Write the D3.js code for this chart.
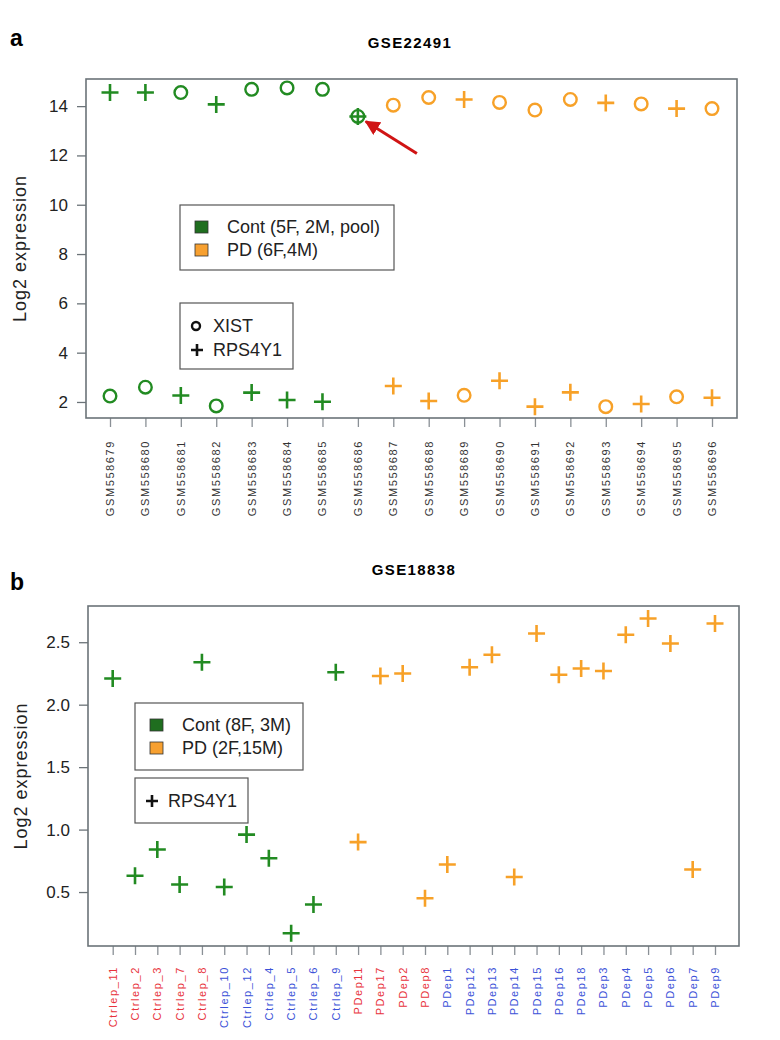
<!DOCTYPE html>
<html>
<head>
<meta charset="utf-8">
<script src="https://cdn.jsdelivr.net/npm/d3@7"></script>
<style>
  body { margin: 0; background: #fff; }
  svg { display: block; font-family: "Liberation Sans", Arial, sans-serif; }
</style>
</head>
<body>
<svg id="chart" width="780" height="1040"></svg>
<script>
/* ------------ DATA ---------------------------------------------------- */
// panel a : GSE22491
const samplesA = ['GSM558679', 'GSM558680', 'GSM558681', 'GSM558682', 'GSM558683', 'GSM558684',
  'GSM558685', 'GSM558686', 'GSM558687', 'GSM558688', 'GSM558689', 'GSM558690', 'GSM558691',
  'GSM558692', 'GSM558693', 'GSM558694', 'GSM558695', 'GSM558696'];
const groupA = ['Cont', 'Cont', 'Cont', 'Cont', 'Cont', 'Cont', 'Cont', 'Cont',
  'PD', 'PD', 'PD', 'PD', 'PD', 'PD', 'PD', 'PD', 'PD', 'PD'];
const xistA = [2.24, 2.60, 14.55, 1.84, 14.68, 14.74, 14.68, 13.58, 14.04, 14.35, 2.27, 14.15,
  13.84, 14.27, 1.81, 14.09, 2.21, 13.90];
const rpsA = [14.55, 14.55, 2.26, 14.07, 2.38, 2.08, 2.01, 13.58, 2.65, 2.04, 14.27, 2.86,
  1.81, 2.39, 14.13, 1.92, 13.90, 2.17];
const yTicksA = [2, 4, 6, 8, 10, 12, 14];
const legendGroupA = ['Cont (5F, 2M, pool)', 'PD (6F,4M)'];
const arrowSampleA = 'GSM558686';

// panel b : GSE18838
const samplesB = ['Ctrlep_11', 'Ctrlep_2', 'Ctrlep_3', 'Ctrlep_7', 'Ctrlep_8', 'Ctrlep_10',
  'Ctrlep_12', 'Ctrlep_4', 'Ctrlep_5', 'Ctrlep_6', 'Ctrlep_9', 'PDep11', 'PDep17', 'PDep2',
  'PDep8', 'PDep1', 'PDep12', 'PDep13', 'PDep14', 'PDep15', 'PDep16', 'PDep18', 'PDep3',
  'PDep4', 'PDep5', 'PDep6', 'PDep7', 'PDep9'];
const groupB = ['Cont', 'Cont', 'Cont', 'Cont', 'Cont', 'Cont', 'Cont', 'Cont', 'Cont', 'Cont',
  'Cont', 'PD', 'PD', 'PD', 'PD', 'PD', 'PD', 'PD', 'PD', 'PD', 'PD', 'PD', 'PD', 'PD', 'PD',
  'PD', 'PD', 'PD'];
const labelSetB = [1, 1, 1, 1, 1, 2, 2, 2, 2, 2, 2, 1, 1, 1, 1, 2, 2, 2, 2, 2, 2, 2, 2, 2, 2,
  2, 2, 2];
const rpsB = [2.21, 0.63, 0.84, 0.56, 2.34, 0.54, 0.96, 0.77, 0.17, 0.40, 2.26, 0.90, 2.23,
  2.25, 0.45, 0.72, 2.30, 2.40, 0.62, 2.57, 2.24, 2.29, 2.27, 2.56, 2.69, 2.49, 0.68, 2.65];
const yTicksB = [0.5, 1.0, 1.5, 2.0, 2.5];
const legendGroupB = ['Cont (8F, 3M)', 'PD (2F,15M)'];

/* ------------ STYLE --------------------------------------------------- */
const groupColor = d3.scaleOrdinal().domain(['Cont', 'PD']).range(['#228b22', '#f7a128']);
const legendFill = d3.scaleOrdinal().domain(['Cont', 'PD']).range(['#1f6e1f', '#f7a030']);
const labelColor = d3.scaleOrdinal().domain([1, 2]).range(['#e8333c', '#3b52d8']);
const boxColor = '#6b7378';

const svg = d3.select('#chart');

// arrowhead
svg.append('defs').append('marker')
  .attr('id', 'arrowHead')
  .attr('viewBox', '0 0 10 10')
  .attr('refX', 9).attr('refY', 5)
  .attr('markerWidth', 5).attr('markerHeight', 5)
  .attr('orient', 'auto')
  .append('path').attr('d', 'M0,0 L10,5 L0,10 z').attr('fill', '#d01414');

/* ------------ MARKERS ------------------------------------------------- */
function plus(g, x, y, color, r = 8.5, w = 2.6) {
  g.append('path')
    .attr('d', `M${x - r},${y}H${x + r}M${x},${y - r}V${y + r}`)
    .attr('stroke', color).attr('stroke-width', w).attr('fill', 'none');
}

function ring(g, x, y, color, r = 6.3, w = 2.4) {
  g.append('circle')
    .attr('cx', x).attr('cy', y).attr('r', r)
    .attr('stroke', color).attr('stroke-width', w).attr('fill', 'none');
}

/* ------------ PANEL --------------------------------------------------- */
function drawPanel(cfg) {
  const g = svg.append('g');
  const { left, right, top, bottom } = cfg.box;

  const x = d3.scalePoint().domain(cfg.samples).range(cfg.xRange);
  const y = d3.scaleLinear().domain(cfg.yDomain).range([bottom, top]);

  // panel letter + title
  g.append('text').attr('x', 10).attr('y', cfg.letterY)
    .attr('font-size', 23).attr('font-weight', 'bold').text(cfg.letter);
  g.append('text').attr('x', cfg.titleX).attr('y', cfg.titleY)
    .attr('text-anchor', 'middle').attr('font-size', 15).attr('font-weight', 'bold')
    .attr('letter-spacing', 1.4).text(cfg.title);

  // y axis
  const ya = g.append('g').attr('transform', `translate(${left},0)`)
    .call(d3.axisLeft(y).tickValues(cfg.yTicks).tickFormat(cfg.yFormat).tickSize(9).tickPadding(9));
  ya.select('.domain').remove();
  ya.selectAll('line').attr('stroke', boxColor).attr('stroke-width', 1.3);
  ya.selectAll('text').attr('font-size', 17).attr('fill', '#222')
    .attr('font-family', '"Liberation Sans", Arial, sans-serif');

  // x axis
  const xa = g.append('g').attr('transform', `translate(0,${bottom})`)
    .call(d3.axisBottom(x).tickSize(9).tickFormat(''));
  xa.select('.domain').remove();
  xa.selectAll('line').attr('stroke', '#8a9096').attr('stroke-width', 1.3);

  g.append('g').selectAll('text')
    .data(cfg.samples)
    .join('text')
    .attr('transform', d => `translate(${x(d) + 4},${cfg.labelTop}) rotate(-90)`)
    .attr('text-anchor', 'end')
    .attr('font-size', 11)
    .attr('letter-spacing', 1.6)
    .attr('fill', (d, i) => cfg.labelSet ? labelColor(cfg.labelSet[i]) : '#333')
    .text(d => d);

  // y label
  g.append('text')
    .attr('transform', `translate(${cfg.ylabX},${(top + bottom) / 2}) rotate(-90)`)
    .attr('text-anchor', 'middle').attr('font-size', 18).attr('fill', '#222')
    .attr('letter-spacing', 1)
    .text('Log2 expression');

  // box
  g.append('rect')
    .attr('x', left).attr('y', top)
    .attr('width', right - left).attr('height', bottom - top)
    .attr('fill', 'none').attr('stroke', boxColor).attr('stroke-width', 1.6);

  // points
  const pts = g.append('g');
  cfg.samples.forEach((s, i) => {
    const c = groupColor(cfg.groups[i]);
    if (cfg.xist) ring(pts, x(s), y(cfg.xist[i]), c);
    plus(pts, x(s), y(cfg.rps[i]), c);
  });

  // group legend
  const lg = cfg.legend1;
  const l1 = g.append('g');
  l1.append('rect').attr('x', lg.x).attr('y', lg.y).attr('width', lg.w).attr('height', lg.h)
    .attr('fill', '#fff').attr('stroke', '#555').attr('stroke-width', 1.2);
  cfg.legendGroups.forEach((t, i) => {
    const cy = lg.y + 22 + i * 23;
    l1.append('rect').attr('x', lg.x + 15).attr('y', cy - 6).attr('width', 13).attr('height', 12)
      .attr('fill', legendFill(['Cont', 'PD'][i])).attr('stroke', '#333').attr('stroke-width', 0.8);
    l1.append('text').attr('x', lg.x + 47).attr('y', cy + 6)
      .attr('font-size', 18).attr('fill', '#222').text(t);
  });

  // gene legend
  const lm = cfg.legend2;
  const l2 = g.append('g');
  l2.append('rect').attr('x', lm.x).attr('y', lm.y).attr('width', lm.w).attr('height', lm.h)
    .attr('fill', '#fff').attr('stroke', '#555').attr('stroke-width', 1.2);
  cfg.genes.forEach((gName, i) => {
    const cy = lm.y + 23 + i * 24;
    if (gName === 'XIST') ring(l2, lm.x + 16, cy, '#111', 4, 2.4);
    else plus(l2, lm.x + 17, cy, '#111', 6, 2.6);
    l2.append('text').attr('x', lm.x + 33).attr('y', cy + 6)
      .attr('font-size', 18).attr('fill', '#222').text(gName);
  });

  return { g, x, y };
}

/* ------------ PANEL A ------------------------------------------------- */
const pa = drawPanel({
  letter: 'a', letterY: 46, title: 'GSE22491', titleX: 410, titleY: 48,
  samples: samplesA, groups: groupA, xist: xistA, rps: rpsA,
  box: { left: 86, right: 737, top: 79, bottom: 418 },
  xRange: [110, 712], yDomain: [1.35, 15.1], yTicks: yTicksA, yFormat: d3.format('d'),
  labelTop: 440, ylabX: 26,
  legendGroups: legendGroupA, genes: ['XIST', 'RPS4Y1'],
  legend1: { x: 180, y: 205, w: 214, h: 65 },
  legend2: { x: 180, y: 303, w: 113, h: 66 }
});

// red arrow pointing at the pooled sample
const ax = pa.x(arrowSampleA) + 8, ay = pa.y(rpsA[samplesA.indexOf(arrowSampleA)]) + 5;
pa.g.append('line')
  .attr('x1', ax + 51).attr('y1', ay + 32).attr('x2', ax).attr('y2', ay)
  .attr('stroke', '#d01414').attr('stroke-width', 3)
  .attr('marker-end', 'url(#arrowHead)');

/* ------------ PANEL B ------------------------------------------------- */
drawPanel({
  letter: 'b', letterY: 590, title: 'GSE18838', titleX: 414, titleY: 575,
  samples: samplesB, groups: groupB, rps: rpsB, labelSet: labelSetB,
  box: { left: 88, right: 739, top: 606, bottom: 946 },
  xRange: [112.7, 715], yDomain: [0.068, 2.79], yTicks: yTicksB, yFormat: d3.format('.1f'),
  labelTop: 966, ylabX: 27,
  legendGroups: legendGroupB, genes: ['RPS4Y1'],
  legend1: { x: 135, y: 703, w: 168, h: 67 },
  legend2: { x: 135, y: 778, w: 113, h: 45 }
});
</script>
</body>
</html>
